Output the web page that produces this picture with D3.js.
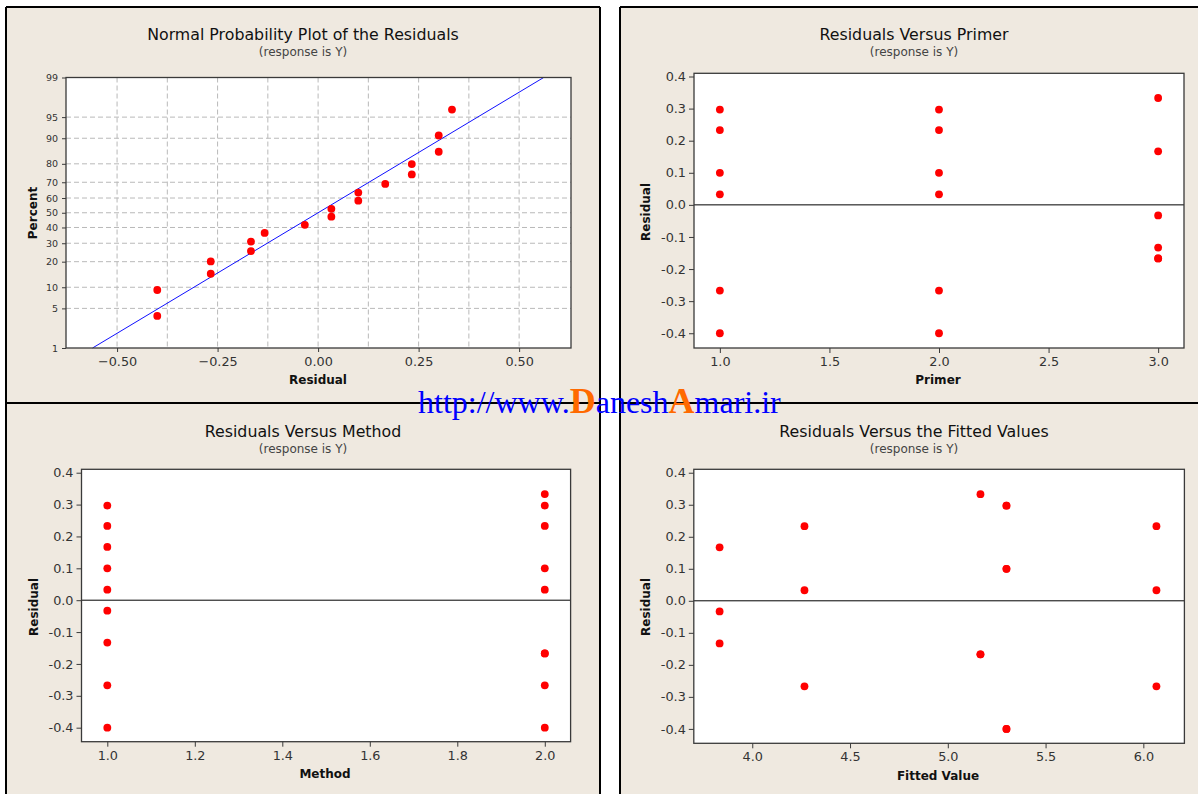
<!DOCTYPE html>
<html><head><meta charset="utf-8">
<script src="https://cdn.jsdelivr.net/npm/d3@7"></script>
<style>body{margin:0;background:#fff}svg{display:block}</style>
</head><body>
<svg id="chart" width="1198" height="794"></svg>
<script>
// ---------- data ----------
const npResidual = [-0.400,-0.400,-0.267,-0.267,-0.167,-0.167,-0.133,-0.033,0.033,0.033,0.100,0.100,0.167,0.233,0.233,0.300,0.300,0.333];
const npPercent  = [3.8,9.2,14.7,20.1,25.5,31.0,36.4,41.8,47.3,52.7,58.2,63.6,69.0,74.5,79.9,85.3,90.8,96.2];
const fitResidual = [-0.561, 0.561];
const fitPercent  = [1, 99];

const primer      = [1,1,1,1,1,1, 2,2,2,2,2,2, 3,3,3,3,3,3];
const method      = [1,1,1,2,2,2, 1,1,1,2,2,2, 1,1,1,2,2,2];
const fittedValue = [4.267,4.267,4.267,5.300,5.300,5.300, 5.300,5.300,5.300,6.067,6.067,6.067, 3.833,3.833,3.833,5.167,5.167,5.167];
const residual    = [-0.267,0.233,0.033,0.100,-0.400,0.297, 0.297,-0.400,0.100,-0.267,0.033,0.233, -0.033,-0.133,0.167,0.333,-0.167,-0.167];

const percentTicks = [1,5,10,20,30,40,50,60,70,80,90,95,99];
const percentGrid  = [5,10,20,30,40,50,60,70,80,90,95];
const npResidTicks = [-0.50,-0.25,0.00,0.25,0.50];
const npResidGrid  = [-0.5,-0.375,-0.25,-0.125,0,0.125,0.25,0.375,0.5];
const residTicks   = [0.4,0.3,0.2,0.1,0.0,-0.1,-0.2,-0.3,-0.4];
const primerTicks  = [1.0,1.5,2.0,2.5,3.0];
const methodTicks  = [1.0,1.2,1.4,1.6,1.8,2.0];
const fittedTicks  = [4.0,4.5,5.0,5.5,6.0];

const titles = ["Normal Probability Plot of the Residuals","Residuals Versus Primer","Residuals Versus Method","Residuals Versus the Fitted Values"];
const subtitle = "(response is Y)";

// ---------- helpers ----------
function probit(p){
 const a=[-3.969683028665376e+01,2.209460984245205e+02,-2.759285104469687e+02,1.383577518672690e+02,-3.066479806614716e+01,2.506628277459239e+00];
 const b=[-5.447609879822406e+01,1.615858368580409e+02,-1.556989798598866e+02,6.680131188771972e+01,-1.328068155288572e+01];
 const c=[-7.784894002430293e-03,-3.223964580411365e-01,-2.400758277161838e+00,-2.549732539343734e+00,4.374664141464968e+00,2.938163982698783e+00];
 const d=[7.784695709041462e-03,3.224671290700398e-01,2.445134137142996e+00,3.754408661907416e+00];
 const pl=0.02425, ph=1-pl; let q,r;
 if(p<pl){q=Math.sqrt(-2*Math.log(p));return (((((c[0]*q+c[1])*q+c[2])*q+c[3])*q+c[4])*q+c[5])/((((d[0]*q+d[1])*q+d[2])*q+d[3])*q+1);}
 if(p<=ph){q=p-0.5;r=q*q;return (((((a[0]*r+a[1])*r+a[2])*r+a[3])*r+a[4])*r+a[5])*q/(((((b[0]*r+b[1])*r+b[2])*r+b[3])*r+b[4])*r+1);}
 q=Math.sqrt(-2*Math.log(1-p));return -(((((c[0]*q+c[1])*q+c[2])*q+c[3])*q+c[4])*q+c[5])/((((d[0]*q+d[1])*q+d[2])*q+d[3])*q+1);
}

const svg = d3.select("#chart");
const FONT = "'DejaVu Sans', Verdana, sans-serif";
const BG = "#efe9e0";

// ---------- panel backgrounds ----------
const panels = [
  {x:6, y:7, w:594, h:396},
  {x:620, y:7, w:578, h:396},
  {x:6, y:403, w:594, h:391},
  {x:620, y:403, w:578, h:391}
];
svg.selectAll("rect.bg").data(panels).join("rect")
  .attr("x",d=>d.x).attr("y",d=>d.y).attr("width",d=>d.w).attr("height",d=>d.h)
  .attr("fill",BG);
const borders = [
  [6,7,600,7],[6,7,6,794],[600,7,600,794],[6,403,600,403],
  [620,7,1198,7],[620,7,620,794],[620,403,1198,403]
];
svg.selectAll("line.border").data(borders).join("line")
  .attr("x1",d=>d[0]).attr("y1",d=>d[1]).attr("x2",d=>d[2]).attr("y2",d=>d[3])
  .attr("stroke","#000").attr("stroke-width",2);

function titleBlock(cx, by, t){
  svg.append("text").attr("x",cx).attr("y",by).attr("text-anchor","middle")
    .attr("font-family",FONT).attr("font-size",15.8).attr("fill","#111").text(t);
  svg.append("text").attr("x",cx).attr("y",by+16).attr("text-anchor","middle")
    .attr("font-family",FONT).attr("font-size",12).attr("fill","#444").text(subtitle);
}

function frame(g, x, y){
  const [x0,x1] = x.range(), [y1,y0] = y.range();
  g.append("rect").attr("x",x0).attr("y",y0).attr("width",x1-x0).attr("height",y1-y0)
    .attr("fill","#fff");
}
function frameBorder(g, x, y){
  const [x0,x1] = x.range(), [y1,y0] = y.range();
  g.append("rect").attr("x",x0).attr("y",y0).attr("width",x1-x0).attr("height",y1-y0)
    .attr("fill","none").attr("stroke","#3a3a3a").attr("stroke-width",1.3);
}
function styleAxis(sel, fs){
  sel.select(".domain").remove();
  sel.selectAll(".tick line").attr("stroke","#3a3a3a");
  sel.selectAll(".tick text").attr("font-family",FONT).attr("font-size",fs).attr("fill","#333");
}
function xLabel(cx, by, t){
  svg.append("text").attr("x",cx).attr("y",by).attr("text-anchor","middle")
    .attr("font-family",FONT).attr("font-size",12).attr("font-weight","bold").attr("fill","#111").text(t);
}
function yLabel(bx, cy, t){
  svg.append("text").attr("transform",`translate(${bx},${cy}) rotate(-90)`).attr("text-anchor","middle")
    .attr("font-family",FONT).attr("font-size",12).attr("font-weight","bold").attr("fill","#111").text(t);
}

// ---------- Panel 1: normal probability plot ----------
{
  const g = svg.append("g");
  const x = d3.scaleLinear().domain([-0.627,0.629]).range([66,571]);
  const z = d3.scaleLinear().domain([probit(0.01),probit(0.99)]).range([348,77.5]);
  const y = p => z(probit(p/100));
  frame(g,x,z);
  g.selectAll("line.vg").data(npResidGrid).join("line")
    .attr("x1",d=>x(d)).attr("x2",d=>x(d)).attr("y1",z.range()[1]).attr("y2",z.range()[0])
    .attr("stroke","#b9b9b9").attr("stroke-dasharray","5,3");
  g.selectAll("line.hg").data(percentGrid).join("line")
    .attr("y1",d=>y(d)).attr("y2",d=>y(d)).attr("x1",x.range()[0]).attr("x2",x.range()[1])
    .attr("stroke","#b9b9b9").attr("stroke-dasharray","5,3");
  const fit = fitResidual.map((r,i)=>[x(r), y(fitPercent[i])]);
  g.append("path").attr("d",d3.line()(fit)).attr("stroke","#1010ff").attr("fill","none").attr("stroke-width",1);
  g.selectAll("circle").data(npResidual).join("circle")
    .attr("cx",d=>x(d)).attr("cy",(d,i)=>y(npPercent[i])).attr("r",3.9).attr("fill","#f00");
  frameBorder(g,x,z);
  g.append("g").attr("transform","translate(0,348)")
    .call(d3.axisBottom(x).tickValues(npResidTicks).tickFormat(d3.format(".2f")).tickSize(4).tickSizeOuter(0).tickPadding(5))
    .call(s=>styleAxis(s,12.8));
  g.append("g").attr("transform","translate(66,0)")
    .call(d3.axisLeft(z).tickValues(percentTicks.map(p=>probit(p/100))).tickFormat((d,i)=>percentTicks[i]).tickSize(4).tickSizeOuter(0).tickPadding(4))
    .call(s=>styleAxis(s,9.5));
  titleBlock(303,40,titles[0]);
  xLabel(318,384,"Residual");
  yLabel(37,213,"Percent");
}

// ---------- residual scatter panels ----------
function scatterPanel(o){
  const g = svg.append("g");
  const x = d3.scaleLinear().domain(o.xd).range(o.xr);
  const y = d3.scaleLinear().domain(o.yd).range(o.yr);
  frame(g,x,y);
  g.append("line").attr("x1",o.xr[0]).attr("x2",o.xr[1]).attr("y1",y(0)).attr("y2",y(0))
    .attr("stroke","#000").attr("stroke-width",1);
  g.selectAll("circle").data(o.xs).join("circle")
    .attr("cx",d=>x(d)).attr("cy",(d,i)=>y(residual[i])).attr("r",3.9).attr("fill","#f00");
  frameBorder(g,x,y);
  g.append("g").attr("transform",`translate(0,${o.yr[0]})`)
    .call(d3.axisBottom(x).tickValues(o.xt).tickFormat(d3.format(".1f")).tickSize(5).tickSizeOuter(0).tickPadding(4))
    .call(s=>styleAxis(s,12.8));
  g.append("g").attr("transform",`translate(${o.xr[0]},0)`)
    .call(d3.axisLeft(y).tickValues(residTicks).tickFormat(d=>d3.format(".1f")(d).replace("−","-")).tickSize(5).tickSizeOuter(0).tickPadding(3))
    .call(s=>styleAxis(s,12.8));
  titleBlock(o.tc[0],o.tc[1],o.title);
  xLabel(o.xl[0],o.xl[1],o.xlab);
  yLabel(o.yl[0],o.yl[1],"Residual");
}

scatterPanel({xd:[0.882,3.118], xr:[694,1184], yd:[-0.446,0.41], yr:[348,73.3],
  xs:primer, xt:primerTicks, title:titles[1], tc:[914,40], xlab:"Primer", xl:[938,384], yl:[650,212]});
scatterPanel({xd:[0.941,2.059], xr:[81.5,570.6], yd:[-0.444,0.4107], yr:[741.7,469.3],
  xs:method, xt:methodTicks, title:titles[2], tc:[303,437], xlab:"Method", xl:[325,778], yl:[38,607]});
scatterPanel({xd:[3.701,6.21], xr:[693.8,1184.4], yd:[-0.445,0.4107], yr:[743.3,469.3],
  xs:fittedValue, xt:fittedTicks, title:titles[3], tc:[914,437], xlab:"Fitted Value", xl:[938,780], yl:[650,607]});

// ---------- watermark ----------
const wm = svg.append("text").attr("x",418).attr("y",413)
  .attr("font-family","'Liberation Serif','Times New Roman',serif").attr("font-size",32).attr("fill","#0000ff");
wm.append("tspan").text("http://www.");
wm.append("tspan").attr("fill","#ff6a00").attr("font-weight","bold").attr("font-size",36).text("D");
wm.append("tspan").text("anesh");
wm.append("tspan").attr("fill","#ff6a00").attr("font-weight","bold").attr("font-size",36).text("A");
wm.append("tspan").text("mari.ir");
</script>
</body></html>
